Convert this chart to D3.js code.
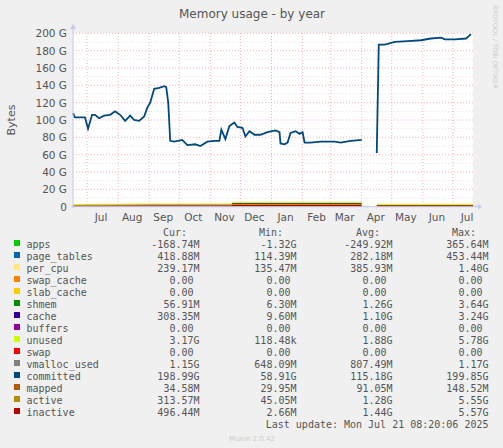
<!DOCTYPE html>
<html><head><meta charset="utf-8">
<script src="https://cdn.jsdelivr.net/npm/d3@7"></script>
<style>body{margin:0;background:#f0f0f0}text{font-family:"DejaVu Sans",sans-serif}.mono{font-family:"DejaVu Sans Mono",monospace}</style>
</head><body><svg id="g" width="503" height="448"></svg>
<script>
const start = new Date(2024, 5, 17);
const end = new Date(2025, 6, 21);
// committed: day offset from start, value in G (null = gap)
const committed_day = [0,2,7,12,15,19,22,26,31,37,42,47,52,57,61,66,71,74,77,81,86,91,93,95,97,101,109,114,122,127,134,141,146,148,152,156,161,164,169,172,176,181,187,194,202,206,207,211,214,217,222,226,229,231,237,247,261,267,277,288,289,302,303,305,311,321,334,347,357,367,371,381,392,397];
const committed_val = [108,103,103,103,90,106,106,102,105,106,110,106,99,105,100,99,104,114,120,136,137,139,138,120,76,75,77,71,72,70,75,76,76,89,78,93,97,92,91,81,87,83,83,86,88,86,73,72,74,85,87,84,86,74,74,75,75,74,76,77,null,null,62,187,187,190,191,192,194,195,193,193,194,199];
// bottom stack (G) by segment
const stack_day = [0,80,158,159,288,289,302,303,399];
const inactive = [1.5,1.6,1.6,2.0,2.0,null,null,1.6,1.6];
const active = [0.5,0.8,0.8,1.4,1.4,null,null,0.2,0.2];
const cache_v = [0.2,0.4,0.4,0.8,0.8,null,null,0.2,0.2];
const unused = [1.0,1.0,1.0,1.4,1.4,null,null,1.4,1.4];
const months = ["Jul","Aug","Sep","Oct","Nov","Dec","Jan","Feb","Mar","Apr","May","Jun","Jul"];
const yticks = [0,20,40,60,80,100,120,140,160,180,200];
const legend_names = ["apps","page_tables","per_cpu","swap_cache","slab_cache","shmem","cache","buffers","unused","swap","vmalloc_used","committed","mapped","active","inactive"];
const legend_colors = ["#00cc00","#0066b3","#ffe680","#ff8000","#ffcc00","#008f00","#330099","#990099","#ccff00","#ff0000","#808080","#00487d","#b35a00","#b38f00","#b30000"];
const cur = ["-168.74M","418.88M","239.17M","0.00 ","0.00 ","56.91M","308.35M","0.00 ","3.17G","0.00 ","1.15G","198.99G","34.58M","313.57M","496.44M"];
const mins = ["-1.32G","114.39M","135.47M","0.00 ","0.00 ","6.30M","9.60M","0.00 ","118.48k","0.00 ","648.09M","58.91G","29.95M","45.05M","2.66M"];
const avgs = ["-249.92M","282.18M","385.93M","0.00 ","0.00 ","1.26G","1.10G","0.00 ","1.88G","0.00 ","807.49M","115.18G","91.05M","1.28G","1.44G"];
const maxs = ["365.64M","453.44M","1.40G","0.00 ","0.00 ","3.64G","3.24G","0.00 ","5.78G","0.00 ","1.17G","199.85G","148.52M","5.55G","5.57G"];

const svg = d3.select("#g");
const x = d3.scaleTime().domain([start, end]).range([73, 473]);
const y = d3.scaleLinear().domain([0, 200]).range([206.7, 33.3]);
const dayDate = d => d3.timeDay.offset(start, d);

svg.append("rect").attr("x",73).attr("y",33).attr("width",400).attr("height",174).attr("fill","#fff");
// grid
for (let v = 0; v <= 200; v += 10) {
  svg.append("line").attr("x1",73).attr("x2",473).attr("y1",y(v)).attr("y2",y(v))
    .attr("stroke", v % 20 ? "#d8d8d8" : "#f0a0a0").attr("stroke-dasharray","1,2").attr("stroke-width",0.8);
}
x.ticks(d3.timeMonth).forEach(m => {
  svg.append("line").attr("x1",x(m)).attr("x2",x(m)).attr("y1",33).attr("y2",207)
    .attr("stroke","#f0a0a0").attr("stroke-dasharray","1,2").attr("stroke-width",0.8);
});

// stacked bottom
const layers = [[inactive,"#b30000"],[active,"#b38f00"],[cache_v,"#330099"],[unused,"#ccff00"]];
let base = stack_day.map(() => 0);
layers.forEach(([vals, col]) => {
  const top = vals.map((v,i) => v == null ? null : base[i] + v);
  const area = d3.area().defined((d,i) => vals[i] != null)
    .x((d,i) => x(dayDate(stack_day[i]))).y0((d,i) => y(base[i])).y1((d,i) => y(top[i]));
  svg.append("path").attr("d", area(stack_day)).attr("fill", col);
  base = top.map((t,i) => t == null ? 0 : t);
});

const line = d3.line().defined((d,i) => committed_val[i] != null)
  .x((d,i) => x(dayDate(committed_day[i]))).y((d,i) => y(committed_val[i]));
svg.append("path").attr("d", line(committed_day)).attr("fill","none").attr("stroke","#00487d").attr("stroke-width",1.8);

// axes
svg.append("line").attr("x1",71).attr("x2",478).attr("y1",206.7).attr("y2",206.7).attr("stroke","#c8c8f0");
svg.append("line").attr("x1",73).attr("x2",73).attr("y1",208).attr("y2",28).attr("stroke","#c8c8f0");
svg.append("path").attr("d","M478,203.7L482,206.7L478,209.7Z").attr("fill","#c8c8f0");
svg.append("path").attr("d","M70,29L73,24L76,29Z").attr("fill","#c8c8f0");
yticks.forEach(v => {
  svg.append("text").attr("x",67).attr("y",y(v)+4).attr("text-anchor","end").attr("font-size",10.5).attr("fill","#555")
    .text(v ? v + " G" : "0");
});
d3.timeMonth.range(d3.timeMonth.ceil(start), end).forEach((m,i) => {
  const mid = new Date(m.getFullYear(), m.getMonth(), 15);
  svg.append("text").attr("x",x(mid)).attr("y",221).attr("text-anchor","middle").attr("font-size",10.5).attr("fill","#555").text(months[i]);
});
svg.append("text").attr("transform","translate(15,120) rotate(-90)").attr("text-anchor","middle").attr("font-size",11).attr("fill","#555").text("Bytes");
svg.append("text").attr("x",252).attr("y",18).attr("text-anchor","middle").attr("font-size",12).attr("fill","#555").text("Memory usage - by year");
svg.append("text").attr("transform","translate(493,5) rotate(90)").attr("font-size",6.5).attr("fill","#ccc").text("RRDTOOL / TOBI OETIKER");

// legend
const hdr = [["Cur:",187],["Min:",283],["Avg:",380],["Max:",476]];
hdr.forEach(([t,xx]) => svg.append("text").attr("class","mono").attr("x",xx).attr("y",236).attr("text-anchor","end").attr("font-size",10).attr("fill","#555").text(t));
legend_names.forEach((n,i) => {
  const yy = 248 + i * 12;
  svg.append("rect").attr("x",14).attr("y",yy-8).attr("width",6).attr("height",6).attr("fill",legend_colors[i]);
  svg.append("text").attr("class","mono").attr("x",26.5).attr("y",yy).attr("font-size",10).attr("fill","#555").text(n);
  [[cur,199.5],[mins,296.5],[avgs,392.5],[maxs,488.5]].forEach(([arr,xx]) => {
    svg.append("text").attr("class","mono").attr("x",xx).attr("y",yy).attr("text-anchor","end").attr("font-size",10)
      .attr("fill","#555").style("white-space","pre").text(arr[i]);
  });
});
svg.append("text").attr("class","mono").attr("x",488.5).attr("y",428).attr("text-anchor","end").attr("font-size",10).attr("fill","#555").text("Last update: Mon Jul 21 08:20:06 2025");
svg.append("text").attr("x",252).attr("y",441).attr("text-anchor","middle").attr("font-size",7).attr("fill","#ccc").text("Munin 2.0.42");
</script></body></html>
